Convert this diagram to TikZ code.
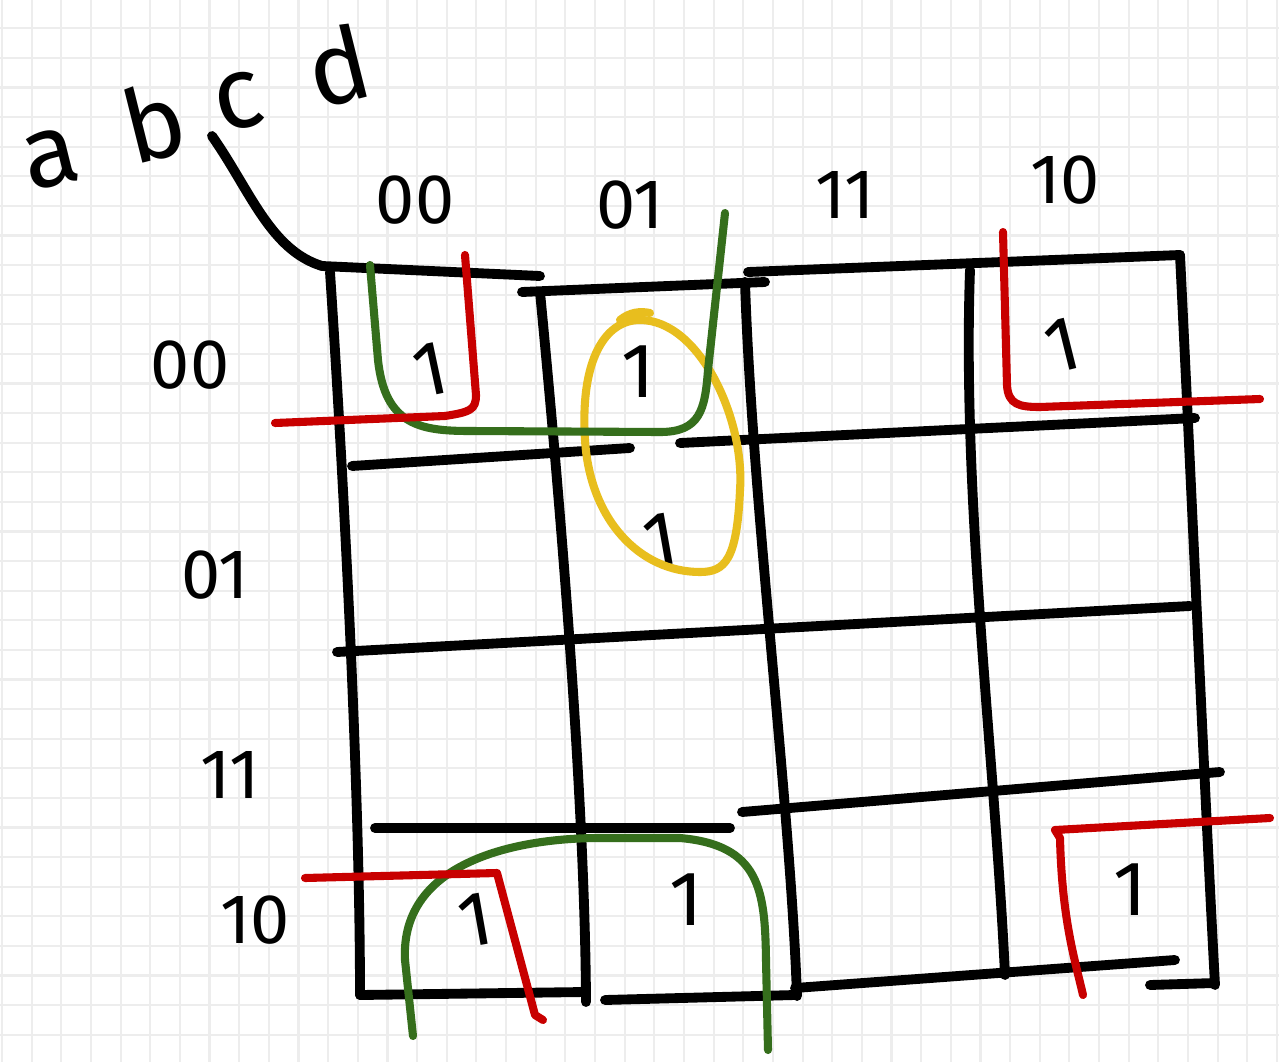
\documentclass[tikz,border=0pt]{standalone}
\usepackage{fontspec}
\setmainfont{Fira Sans}
\usetikzlibrary{calc}
\definecolor{Paper}{HTML}{EDEDED}
\definecolor{Ink}{HTML}{000000}
\definecolor{LoopRed}{HTML}{C80000}
\definecolor{LoopGreen}{HTML}{356E1C}
\definecolor{LoopYellow}{HTML}{E8BE1E}
\tikzset{
  paper/.style={draw=Paper,line width=1.2pt},
  pen/.style={draw=Ink,line width=5.6pt,line cap=round,line join=round},
  marker/.style={line width=4.6pt,line cap=round,line join=round},
  redloop/.style={marker,draw=LoopRed},
  greenloop/.style={marker,draw=LoopGreen},
  yellowloop/.style={marker,draw=LoopYellow},
  hand/.style={inner sep=0pt,text=Ink,font=\fontsize{40}{44}\selectfont},
  bighand/.style={inner sep=0pt,text=Ink,font=\fontsize{58}{62}\selectfont},
  one/.style={inner sep=0pt,text=Ink,font=\fontsize{44}{48}\selectfont},
}

\begin{document}
\begin{tikzpicture}[x=0.02cm,y=-0.02cm]
        \useasboundingbox (0,0) rectangle (1279,1062);
        \fill[white] (0,0) rectangle (1279,1062);
        % squared paper
        \foreach \i in {0,...,43}
          \draw[paper] ({2+29.65*\i},0) -- ({2+29.65*\i},1062);
        \foreach \j in {0,...,36}
          \draw[paper] (0,{-1.3+29.6*\j}) -- (1279,{-1.3+29.6*\j});

        % variable labels and corner stroke
        \node[bighand,rotate=14] (ab) at (102,135) {a\enspace b};
        \node[bighand,rotate=14] (cd) at (290,78) {c\enspace d};
        \coordinate (corner) at (322,266);
        \draw[pen] (212,136) .. controls (250,190) and (270,250) .. (corner);

        % column labels
        \node[hand] (c00) at (415,200) {00};
        \node[hand] (c01) at (630,205) {01};
        \node[hand] (c11) at (845,195) {11};
        \node[hand] (c10) at (1065,180) {10};
        % row labels
        \node[hand] (r00) at (190,365) {00};
        \node[hand] (r01) at (215,575) {01};
        \node[hand] (r11) at (230,775) {11};
        \node[hand] (r10) at (255,920) {10};

        % grid, horizontal strokes
        \draw[pen] (corner) -- (540,276);
        \draw[pen] (522,292) -- (765,282);
        \draw[pen] (748,272) -- (1180,255);
        \draw[pen] (352,466) -- (630,448);
        \draw[pen] (680,443) -- (1195,418);
        \draw[pen] (337,652) -- (1190,606);
        \draw[pen] (375,828) -- (730,828);
        \draw[pen] (742,812) -- (1220,772);
        \draw[pen] (360,995) -- (585,992);
        \draw[pen] (605,1000) -- (795,995);
        \draw[pen] (795,988) -- (1175,960);
        \draw[pen] (1150,985) -- (1215,983);
        % grid, vertical strokes
        \draw[pen] (330,272) .. controls (345,500) and (360,800) .. (360,995);
        \draw[pen] (540,292) .. controls (560,500) and (585,800) .. (586,1002);
        \draw[pen] (745,282) .. controls (752,500) and (790,800) .. (797,996);
        \draw[pen] (970,270) .. controls (962,500) and (995,760) .. (1005,975);
        \draw[pen] (1180,255) .. controls (1192,500) and (1205,800) .. (1215,985);

        % cell entries
        \node[one,rotate=12] (m0) at (430,370) {1};
        \node[one] (m1) at (638,372) {1};
        \node[one,rotate=10] (m5) at (660,540) {1};
        \node[one,rotate=14] (m2) at (1062,345) {1};
        \node[one,rotate=10] (m8) at (475,920) {1};
        \node[one] (m9) at (686,900) {1};
        \node[one] (m10) at (1130,890) {1};

        % groups
        \draw[yellowloop] (640,320) .. controls (700,320) and (745,420) .. (740,490)
          .. controls (737,560) and (725,572) .. (700,572)
          .. controls (640,572) and (590,520) .. (585,440)
          .. controls (580,360) and (605,320) .. (640,320);
        \draw[yellowloop] (620,320) .. controls (630,312) and (640,311) .. (650,313);
        \draw[greenloop] (370,265) -- (378,360) .. controls (385,425) and (420,431) .. (470,431)
          -- (660,432) .. controls (700,432) and (705,410) .. (708,370) -- (725,213);
        \draw[greenloop] (413,1036) -- (405,960) .. controls (400,860) and (520,838) .. (600,838)
          -- (680,838) .. controls (760,845) and (765,890) .. (766,960) -- (768,1050);
        \draw[redloop] (465,255) -- (476,395) .. controls (476,410) and (470,412) .. (445,416) -- (275,423);
        \draw[redloop] (1003,232) -- (1007,385) .. controls (1008,405) and (1020,407) .. (1040,407) -- (1260,399);
        \draw[redloop] (305,878) -- (497,873) -- (535,1015) -- (543,1020);
        \draw[redloop] (1270,818) -- (1055,830) -- (1060,838) .. controls (1062,920) and (1075,960) .. (1083,995);
      \end{tikzpicture}
\end{document}
